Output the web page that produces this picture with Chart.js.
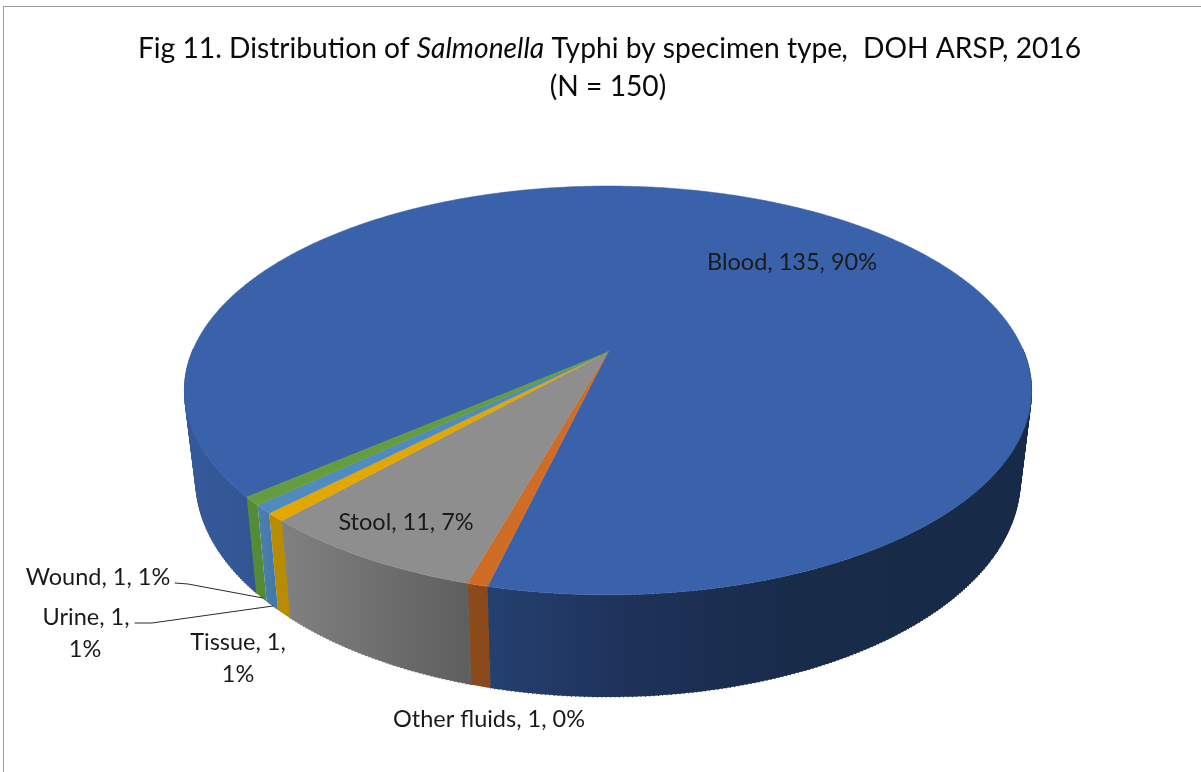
<!DOCTYPE html>
<html>
<head>
<meta charset="utf-8">
<title>Fig 11</title>
<script src="https://cdn.jsdelivr.net/npm/chart.js@4"></script>
<style>
html,body{margin:0;padding:0;background:#fff;overflow:hidden}
#wrap{position:relative;width:1201px;height:772px;background:#fff}
#frame{position:absolute;left:3px;top:6px;right:0;bottom:0;border-left:1px solid #9c9c9c;border-top:1px solid #9c9c9c}
canvas{position:absolute;left:0;top:0}
</style>
</head>
<body>
<div id="wrap"><div id="frame"></div><canvas id="c" width="1201" height="772"></canvas></div>
<script>
const categories = ["Blood", "Other fluids", "Stool", "Tissue", "Urine", "Wound"];
const counts = [135, 1, 11, 1, 1, 1];
const percents = ["90%", "0%", "7%", "1%", "1%", "1%"];
const titleLine2 = "(N = 150)";
const sliceColors = ["#3a62aa", "#cf6d27", "#8e8e8e", "#e2a800", "#4f8ac0", "#659c3d"];
const wallStops = [
  [[185,"#36599a"],[257,"#325592"],[490,"#24406f"],[640,"#1e3158"],[800,"#182b49"],[1032,"#172a47"]],
  [[465,"#8e4b1c"],[490,"#8a491b"]],
  [[285,"#808080"],[465,"#5f5f5f"]],
  [[270,"#b88b00"],[290,"#b88b00"]],
  [[258,"#4a80b0"],[275,"#4478a8"]],
  [[247,"#558c36"],[265,"#548a35"]]
];
const FONT = "Lato, Carlito, sans-serif";

// camera-like projection of the pie disc
const CX = 608;
const topFace = {R:416, c:-0.188, y0:352, k:197.2};
const botFace = {R:404.6, c:-0.190, y0:439, k:209};
function proj(f, a){
  const u=Math.cos(a), v=Math.sin(a), d=1+f.c*v;
  return [CX+f.R*u/d, f.y0+f.k*v/d];
}
const STEP = Math.PI/360;

const pie3d = {
  id:"pie3d",
  beforeDatasetDraw(chart, args){
    const ctx = chart.ctx, meta = args.meta;
    // walls
    meta.data.forEach((arc,i)=>{
      const g = ctx.createLinearGradient(wallStops[i][0][0],0,wallStops[i][wallStops[i].length-1][0],0);
      const x0=wallStops[i][0][0], x1=wallStops[i][wallStops[i].length-1][0];
      wallStops[i].forEach(s=>g.addColorStop((s[0]-x0)/(x1-x0),s[1]));
      ctx.fillStyle=g;
      let run=[];
      const flush=()=>{
        if(run.length>1){
          // band between the top rim and the bottom rim
          ctx.beginPath();
          run.forEach((a,j)=>{const p=proj(topFace,a); j?ctx.lineTo(p[0],p[1]):ctx.moveTo(p[0],p[1]);});
          run.slice().reverse().forEach(a=>{const p=proj(botFace,a); ctx.lineTo(p[0],p[1]);});
          ctx.closePath();
          ctx.fill();
          // swept segments so the sides follow the tangent silhouette (large slice only)
          if(run.length>20){
            ctx.strokeStyle=g; ctx.lineWidth=1.2; ctx.lineCap="round";
            for(let j=0;j<run.length;j++){
              const a=proj(topFace,run[j]),d=proj(botFace,run[j]);
              ctx.beginPath();
              ctx.moveTo(a[0],a[1]);ctx.lineTo(d[0],d[1]);
              ctx.stroke();
            }
          }
        }
        run=[];
      };
      const n=Math.max(2,Math.ceil((arc.endAngle-arc.startAngle)/STEP));
      for(let j=0;j<=n;j++){
        const a=arc.startAngle+(arc.endAngle-arc.startAngle)*j/n;
        if(Math.sin(a)>=-0.02) run.push(a); else flush();
      }
      flush();
    });
    // top faces
    meta.data.forEach((arc,i)=>{
      const n=Math.max(2,Math.ceil((arc.endAngle-arc.startAngle)/STEP));
      ctx.beginPath();
      ctx.moveTo(CX,topFace.y0);
      for(let j=0;j<=n;j++){
        const p=proj(topFace,arc.startAngle+(arc.endAngle-arc.startAngle)*j/n);
        ctx.lineTo(p[0],p[1]);
      }
      ctx.closePath();
      ctx.fillStyle=arc.options.backgroundColor;
      ctx.strokeStyle=arc.options.backgroundColor;
      ctx.lineWidth=0.5;
      ctx.fill(); ctx.stroke();
    });
    return false;
  },
  afterDraw(chart){
    const ctx=chart.ctx;
    ctx.save();
    ctx.textBaseline="alphabetic";
    // title with italic species name
    const parts=[["Fig 11. Distribution of ","normal"],["Salmonella","italic"],[" Typhi by specimen type","normal"],[",","italic"],["  DOH ARSP, 2016","normal"]];
    const tf=st=>st+" 28.2px "+FONT;
    let w=0; parts.forEach(p=>{ctx.font=tf(p[1]);w+=ctx.measureText(p[0]).width;});
    let x=609.5-w/2;
    ctx.fillStyle="#0a0a0a"; ctx.textAlign="left";
    parts.forEach(p=>{ctx.font=tf(p[1]);ctx.fillText(p[0],x,58);x+=ctx.measureText(p[0]).width;});
    ctx.font=tf("normal"); ctx.textAlign="center";
    ctx.fillText(titleLine2,608,96);
    // leader lines
    ctx.strokeStyle="#2a2a2a"; ctx.lineWidth=1;
    [[[175,583],[188,584],[263,598]],[[135,623],[152,623],[273,606]]].forEach(l=>{
      ctx.beginPath(); l.forEach((p,j)=>j?ctx.lineTo(p[0],p[1]):ctx.moveTo(p[0],p[1])); ctx.stroke();
    });
    // data labels
    ctx.font="23.5px "+FONT; ctx.fillStyle="#1a1a1a";
    const lab=i=>categories[i]+", "+counts[i]+", "+percents[i];
    ctx.textAlign="center";
    ctx.fillText(lab(0),792,270);
    ctx.fillText(lab(2),406,530);
    ctx.fillText(lab(1),489,727);
    ctx.fillText(lab(5),98,585);
    ctx.fillText(categories[4]+", "+counts[4]+",",86,625);
    ctx.fillText(percents[4],85,657);
    ctx.fillText(categories[3]+", "+counts[3]+",",238,650);
    ctx.fillText(percents[3],238,682);
    ctx.restore();
  }
};

new Chart(document.getElementById("c"),{
  type:"pie",
  data:{labels:categories,datasets:[{data:counts,backgroundColor:sliceColors,borderWidth:0}]},
  options:{
    responsive:false,animation:false,rotation:229.7,
    plugins:{legend:{display:false},tooltip:{enabled:false},title:{display:false}}
  },
  plugins:[pie3d]
});
</script>
</body>
</html>
